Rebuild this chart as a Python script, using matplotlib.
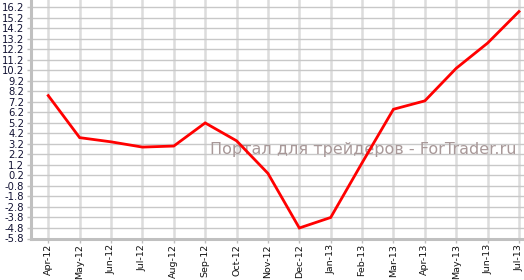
import matplotlib
matplotlib.use("Agg")
import matplotlib.pyplot as plt
import numpy as np

months = ["Apr-12", "May-12", "Jun-12", "Jul-12", "Aug-12", "Sep-12", "Oct-12",
          "Nov-12", "Dec-12", "Jan-13", "Feb-13", "Mar-13", "Apr-13", "May-13",
          "Jun-13", "Jul-13"]
values = [7.8, 3.8, 3.4, 2.9, 3.0, 5.2, 3.5, 0.4, -4.8, -3.8, 1.4, 6.5, 7.3,
          10.4, 12.8, 15.8]
y_ticks = [-5.8, -4.8, -3.8, -2.8, -1.8, -0.8, 0.2, 1.2, 2.2, 3.2, 4.2, 5.2,
           6.2, 7.2, 8.2, 9.2, 10.2, 11.2, 12.2, 13.2, 14.2, 15.2, 16.2]
y_tick_labels = ["%.1f" % v for v in y_ticks]
watermark = "Портал для трейдеров - ForTrader.ru"

plt.rcParams['font.family'] = ['DejaVu Sans']

fig = plt.figure(figsize=(5.24, 2.80), dpi=100)
ax = fig.add_axes([31 / 524, 41.5 / 280, 493 / 524, 238.5 / 280])

x = np.arange(len(months))
ax.plot(x, values, color="#ff0000", lw=2.0, zorder=4, solid_joinstyle="miter")

ax.set_xlim(-0.55, len(months) - 1 + 0.16)
ax.set_ylim(-5.8, 16.9)

ax.set_xticks(x)
ax.set_xticklabels(months, rotation=90, fontsize=6.8, color="#111111")
ax.set_yticks(y_ticks)
ax.set_yticklabels(y_tick_labels, fontsize=7.2, color="#111133")

ax.xaxis.grid(True, color="#dcdcdc", lw=1.8, zorder=0)
ax.yaxis.grid(True, color="#c8c8c8", lw=1.0, zorder=0)
ax.set_axisbelow(True)

for side in ["top", "right"]:
    ax.spines[side].set_visible(False)
ax.spines["left"].set_color("#c0c0c0")
ax.spines["left"].set_linewidth(2.2)
ax.spines["bottom"].set_color("#c0c0c0")
ax.spines["bottom"].set_linewidth(2.2)
ax.tick_params(axis="x", length=3, width=1, color="#c0c0c0", pad=1)
ax.tick_params(axis="y", length=3, width=1, color="#c0c0c0", pad=2)

ax.text(0.985, 0.375, watermark, transform=ax.transAxes, ha="right", va="center",
        fontsize=11.5, color="#a89898", zorder=3)

fig.savefig("out.png", dpi=100)
